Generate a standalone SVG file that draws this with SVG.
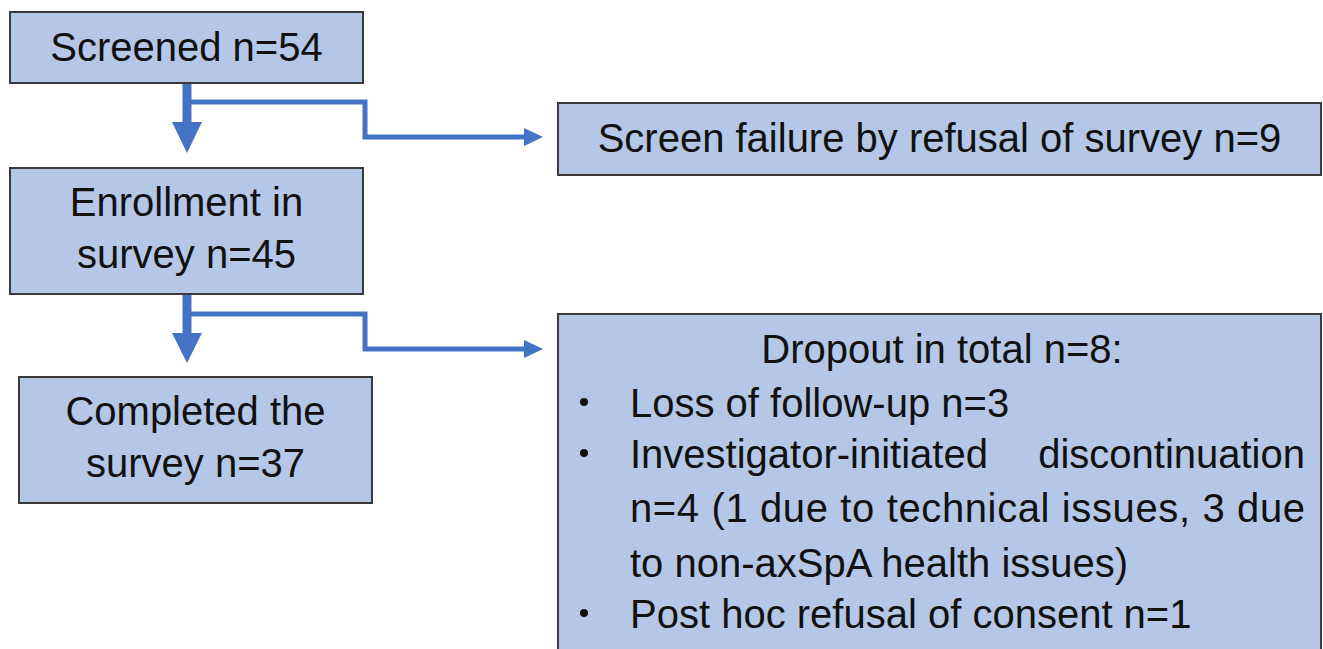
<svg xmlns="http://www.w3.org/2000/svg" width="1323" height="649" viewBox="0 0 1323 649">
<style>
.box{fill:#b4c7e7;stroke:#3a3a3a;stroke-width:2}
.t{font-family:"Liberation Sans",Arial,sans-serif;font-size:40px;fill:#111}
.c{text-anchor:middle}
.ln{fill:none;stroke:#4472c4;stroke-width:5}
.sh{fill:none;stroke:#4472c4;stroke-width:9}
.hd{fill:#4472c4}
</style>
<rect width="1323" height="649" fill="#fff"/>
<g id="connectors">
  <line class="sh" x1="187" y1="83" x2="187" y2="125"/>
  <polygon class="hd" points="172,122 202,122 187,153"/>
  <polyline class="ln" points="187,102 365,102 365,137 528,137"/>
  <polygon class="hd" points="524,128 543,137 524,146"/>
  <line class="sh" x1="187" y1="294" x2="187" y2="336"/>
  <polygon class="hd" points="172,333 202,333 187,363"/>
  <polyline class="ln" points="187,314 365,314 365,349 528,349"/>
  <polygon class="hd" points="524,340 543,349 524,358"/>
</g>
<g id="screened">
  <rect class="box" x="10" y="12" width="353" height="71"/>
  <text class="t c" x="186.5" y="61">Screened n=54</text>
</g>
<g id="enrollment">
  <rect class="box" x="10" y="168" width="353" height="126"/>
  <text class="t c" x="186.5" y="216">Enrollment in</text>
  <text class="t c" x="186.5" y="268">survey n=45</text>
</g>
<g id="completed">
  <rect class="box" x="19" y="377" width="353" height="126"/>
  <text class="t c" x="195.5" y="425">Completed the</text>
  <text class="t c" x="195.5" y="477">survey n=37</text>
</g>
<g id="screenfailure">
  <rect class="box" x="558" y="103" width="763" height="72"/>
  <text class="t c" x="939.5" y="152">Screen failure by refusal of survey n=9</text>
</g>
<g id="dropout">
  <rect class="box" x="558" y="314" width="763" height="350"/>
  <text class="t c" x="942" y="363">Dropout in total n=8:</text>
  <circle cx="584" cy="402" r="4" fill="#111"/>
  <text class="t" x="630" y="417">Loss of follow-up n=3</text>
  <circle cx="584" cy="453" r="4" fill="#111"/>
  <text class="t" x="630" y="468">Investigator-initiated</text>
  <text class="t" x="1305" y="468" text-anchor="end">discontinuation</text>
  <text class="t" x="630" y="522" textLength="675" lengthAdjust="spacing">n=4 (1 due to technical issues, 3 due</text>
  <text class="t" x="630" y="577">to non-axSpA health issues)</text>
  <circle cx="584" cy="613" r="4" fill="#111"/>
  <text class="t" x="630" y="628">Post hoc refusal of consent n=1</text>
</g>
</svg>
